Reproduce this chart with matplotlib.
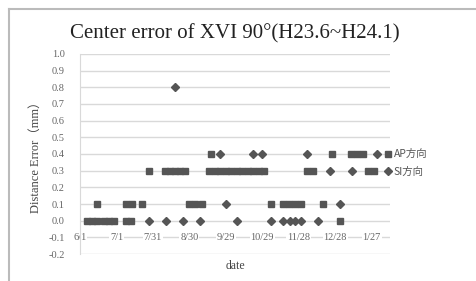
import matplotlib
matplotlib.use("Agg")
import matplotlib.pyplot as plt
from matplotlib.lines import Line2D
import pandas as pd

# AP direction (squares)
ap_dates = ["2011-06-07", "2011-06-11", "2011-06-15", "2011-06-21", "2011-06-25", "2011-06-29",
            "2011-07-09", "2011-07-13", "2012-01-01",
            "2011-06-15", "2011-07-09", "2011-07-14", "2011-07-22", "2011-08-30", "2011-09-04",
            "2011-09-09", "2011-11-05", "2011-11-15", "2011-11-20", "2011-11-25", "2011-11-30",
            "2011-12-18",
            "2011-07-28", "2011-08-10", "2011-08-14", "2011-08-18", "2011-08-22", "2011-08-26",
            "2011-09-15", "2011-09-20", "2011-09-24", "2011-09-29", "2011-10-03", "2011-10-08",
            "2011-10-12", "2011-10-17", "2011-10-21", "2011-10-26", "2011-10-30", "2011-12-05",
            "2011-12-10", "2012-01-24", "2012-01-29",
            "2011-09-17", "2011-12-25", "2012-01-10", "2012-01-15", "2012-01-20"]
ap_values = [0.0] * 9 + [0.1] * 13 + [0.3] * 21 + [0.4] * 5

# SI direction (diamonds)
si_dates = ["2011-07-28", "2011-08-11", "2011-08-25", "2011-09-08", "2011-10-08", "2011-11-05",
            "2011-11-15", "2011-11-21", "2011-11-25", "2011-11-30", "2011-12-14",
            "2011-09-29", "2012-01-01",
            "2011-12-24", "2012-01-11",
            "2011-09-24", "2011-10-21", "2011-10-29", "2011-12-05", "2012-01-31",
            "2011-08-18"]
si_values = [0.0] * 11 + [0.1] * 2 + [0.3] * 2 + [0.4] * 5 + [0.8]

tick_dates = pd.date_range("2011-06-01", periods=9, freq="30D")
yticks = [round(-0.2 + 0.1 * i, 1) for i in range(13)]

serif = ["Liberation Serif", "DejaVu Serif"]
cjk = ["Noto Sans CJK JP", "DejaVu Sans"]

fig = plt.figure(figsize=(4.77, 2.81), dpi=100)
ax = fig.add_axes([80 / 477, 1 - 254 / 281, 310 / 477, 200 / 281])

for y in yticks:
    ax.axhline(y, color="#d9d9d9", lw=1.0, zorder=0)

ax.plot(pd.to_datetime(ap_dates), ap_values, ls="none", marker="s", ms=5,
        color="#555555", label="AP方向", zorder=3)
ax.plot(pd.to_datetime(si_dates), si_values, ls="none", marker="D", ms=3.6,
        color="#555555", label="SI方向", zorder=4)

ax.set_xlim(pd.Timestamp("2011-06-01"), pd.Timestamp("2012-02-11"))
ax.set_ylim(-0.2, 1.0)
ax.set_yticks(yticks)
ax.set_yticklabels([f"{v:.1f}" for v in yticks], fontfamily=serif, fontsize=7.5, color="#666666")
ax.set_xticks(tick_dates)
ax.set_xticklabels([])
ax.tick_params(axis="both", length=0)
ax.tick_params(axis="y", pad=11)

for d in tick_dates:
    ax.text(d, -0.1, f"{d.month}/{d.day}", transform=ax.transData, ha="center", va="center",
            fontsize=7.5, color="#666666", family=serif,
            bbox=dict(facecolor="white", edgecolor="none", pad=0.6), zorder=2)

for s in ["top", "right", "bottom"]:
    ax.spines[s].set_visible(False)
ax.spines["left"].set_color("#d9d9d9")

ax.set_title("Center error of XVI 90°(H23.6~H24.1)", family=serif, fontsize=15,
             color="#222222", pad=11)
ax.set_ylabel("Distance Error（mm）", family=["Liberation Serif", "Noto Sans CJK JP"],
              fontsize=9, color="#444444", labelpad=5)
ax.set_xlabel("date", family=serif, fontsize=8.5, color="#444444", labelpad=1)

leg = fig.legend(loc="upper left", bbox_to_anchor=(380 / 477, 1 - 144 / 281), frameon=False,
                 prop={"family": cjk, "size": 7.5}, handlelength=0.6, handletextpad=0.2,
                 labelspacing=0.7, borderpad=0)
for t in leg.get_texts():
    t.set_color("#555555")

fig.add_artist(Line2D([9 / 477, 1], [1 - 9 / 281, 1 - 9 / 281], color="#bbbbbb", lw=1.5))
fig.add_artist(Line2D([9 / 477, 9 / 477], [0, 1 - 9 / 281], color="#bbbbbb", lw=1.5))

fig.savefig("out.png", dpi=100)
